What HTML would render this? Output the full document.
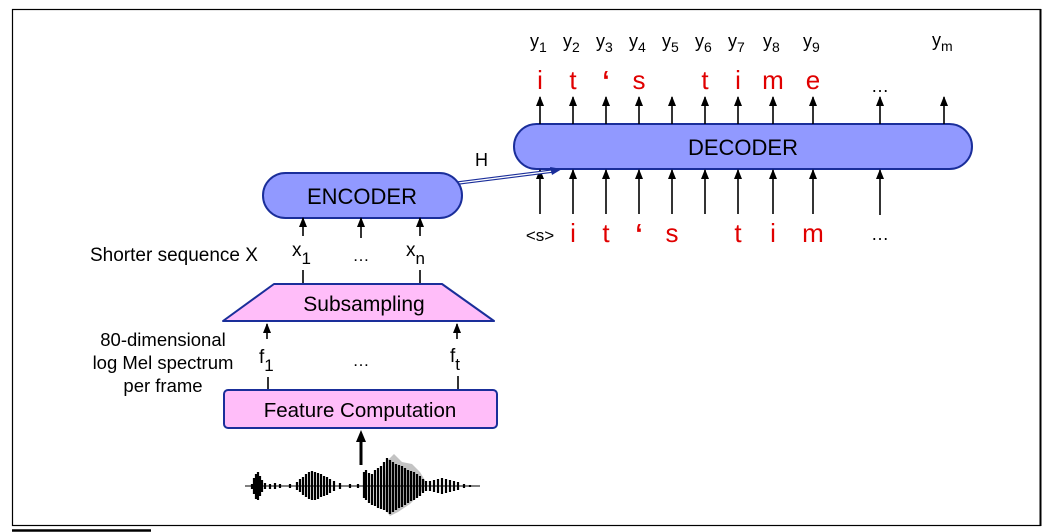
<!DOCTYPE html>
<html><head><meta charset="utf-8"><style>
html,body{margin:0;padding:0;background:#fff;}
svg{display:block;font-family:"Liberation Sans",sans-serif;}
</style></head><body>
<svg width="1057" height="532" viewBox="0 0 1057 532" xmlns="http://www.w3.org/2000/svg">
<defs>
<marker id="a" markerWidth="10" markerHeight="10" refX="9" refY="4" orient="auto" markerUnits="userSpaceOnUse" viewBox="0 0 10 8"><path d="M0,0 L10,4 L0,8 Z" fill="#000"/></marker>
</defs>
<rect x="12.5" y="9.5" width="1028" height="516" fill="none" stroke="#000" stroke-width="1.2"/>
<line x1="1040.5" y1="9" x2="1040.5" y2="526" stroke="#000" stroke-width="2"/>
<line x1="12" y1="530.5" x2="151" y2="530.5" stroke="#000" stroke-width="2.5"/>

<rect x="514" y="124" width="458" height="45" rx="22.5" fill="#9199ff" stroke="#1a2e9a" stroke-width="2"/>
<text x="743" y="155" font-size="22" text-anchor="middle">DECODER</text>
<g stroke="#000" stroke-width="1.6" marker-end="url(#a)">
<line x1="540" y1="124" x2="540" y2="97"/><line x1="573" y1="124" x2="573" y2="97"/>
<line x1="606" y1="124" x2="606" y2="97"/><line x1="639" y1="124" x2="639" y2="97"/>
<line x1="672" y1="124" x2="672" y2="97"/><line x1="705" y1="124" x2="705" y2="97"/>
<line x1="738" y1="124" x2="738" y2="97"/><line x1="773" y1="124" x2="773" y2="97"/>
<line x1="813" y1="124" x2="813" y2="97"/><line x1="880" y1="124" x2="880" y2="97"/>
<line x1="944" y1="124" x2="944" y2="97"/>
<line x1="540" y1="214" x2="540" y2="170"/><line x1="573" y1="214" x2="573" y2="170"/>
<line x1="606" y1="214" x2="606" y2="170"/><line x1="639" y1="214" x2="639" y2="170"/>
<line x1="672" y1="214" x2="672" y2="170"/><line x1="705" y1="214" x2="705" y2="170"/>
<line x1="738" y1="214" x2="738" y2="170"/><line x1="773" y1="214" x2="773" y2="170"/>
<line x1="813" y1="214" x2="813" y2="170"/><line x1="880" y1="215" x2="880" y2="170"/>
</g>
<g font-size="18" fill="#000">
<text x="530" y="47">y<tspan font-size="14" dy="5">1</tspan></text>
<text x="563" y="47">y<tspan font-size="14" dy="5">2</tspan></text>
<text x="596" y="47">y<tspan font-size="14" dy="5">3</tspan></text>
<text x="629" y="47">y<tspan font-size="14" dy="5">4</tspan></text>
<text x="662" y="47">y<tspan font-size="14" dy="5">5</tspan></text>
<text x="695" y="47">y<tspan font-size="14" dy="5">6</tspan></text>
<text x="728" y="47">y<tspan font-size="14" dy="5">7</tspan></text>
<text x="763" y="47">y<tspan font-size="14" dy="5">8</tspan></text>
<text x="803" y="47">y<tspan font-size="14" dy="5">9</tspan></text>
<text x="932" y="46">y<tspan font-size="14" dy="5">m</tspan></text>
</g>
<g font-size="26" fill="#e00000" text-anchor="middle">
<text x="540" y="89">i</text><text x="573" y="89">t</text><text x="606" y="89" font-weight="bold">‘</text>
<text x="639" y="89">s</text><text x="705" y="89">t</text><text x="738" y="89">i</text>
<text x="773" y="89">m</text><text x="813" y="89">e</text>
<text x="573" y="242">i</text><text x="606" y="242">t</text><text x="639" y="242" font-weight="bold">‘</text>
<text x="672" y="242">s</text><text x="738" y="242">t</text><text x="773" y="242">i</text>
<text x="813" y="242">m</text>
</g>
<text x="880" y="92" font-size="18" text-anchor="middle">…</text>
<text x="880" y="240" font-size="18" text-anchor="middle">…</text>
<text x="540" y="241" font-size="17" text-anchor="middle">&lt;s&gt;</text>

<line x1="458" y1="183" x2="553" y2="171" stroke="#1a2e9a" stroke-width="3.5"/>
<line x1="458" y1="183" x2="553" y2="171" stroke="#fff" stroke-width="1.3"/>
<path d="M550,167 L562,169 L552,175 Z" fill="#1a2e9a"/>
<text x="475" y="166" font-size="18">H</text>

<rect x="263" y="173" width="199" height="45" rx="22.5" fill="#9199ff" stroke="#1a2e9a" stroke-width="2"/>
<text x="362" y="204" font-size="22" text-anchor="middle">ENCODER</text>
<g stroke="#000" stroke-width="1.6" marker-end="url(#a)">
<line x1="303" y1="236" x2="303" y2="218"/><line x1="361" y1="238" x2="361" y2="218"/><line x1="420" y1="236" x2="420" y2="218"/>
</g>
<text x="90" y="261" font-size="19">Shorter sequence X</text>
<text x="292" y="256" font-size="19">x<tspan font-size="17" dy="8">1</tspan></text>
<text x="361" y="261" font-size="17" text-anchor="middle">…</text>
<text x="406" y="256" font-size="19">x<tspan font-size="17" dy="8">n</tspan></text>
<line x1="303" y1="270" x2="303" y2="284" stroke="#000" stroke-width="1.6"/>
<line x1="420" y1="270" x2="420" y2="284" stroke="#000" stroke-width="1.6"/>

<path d="M274,284 L442,284 L494,321 L223,321 Z" fill="#ffbdf9" stroke="#1a2e9a" stroke-width="2" stroke-linejoin="round"/>
<text x="364" y="311" font-size="21" text-anchor="middle">Subsampling</text>
<g stroke="#000" stroke-width="1.6" marker-end="url(#a)">
<line x1="267" y1="339" x2="267" y2="324"/><line x1="457" y1="339" x2="457" y2="324"/>
</g>
<g font-size="18.5" text-anchor="middle">
<text x="163" y="346">80-dimensional</text>
<text x="163" y="369">log Mel spectrum</text>
<text x="163" y="392">per frame</text>
</g>
<text x="259" y="363" font-size="19">f<tspan font-size="17" dy="8">1</tspan></text>
<text x="361" y="366" font-size="17" text-anchor="middle">…</text>
<text x="450" y="362" font-size="19">f<tspan font-size="17" dy="8">t</tspan></text>
<line x1="268" y1="377" x2="268" y2="390" stroke="#000" stroke-width="1.6"/>
<line x1="458" y1="376" x2="458" y2="390" stroke="#000" stroke-width="1.6"/>

<rect x="224" y="390" width="273" height="38" rx="4" fill="#ffbdf9" stroke="#1a2e9a" stroke-width="2"/>
<text x="360" y="417" font-size="20.5" text-anchor="middle">Feature Computation</text>
<line x1="361" y1="465" x2="361" y2="440" stroke="#000" stroke-width="3"/>
<path d="M356,442 L361,430 L366,442 Z" fill="#000"/>

<path d="M386,462 L394,454 L402,462 L412,464 L420,472 L426,482 L420,494 L410,504 L398,512 L390,516 L384,508 Z" fill="#888" opacity="0.5"/>
<g stroke="#000" stroke-width="2.2">
<path d="M252,484V489M254,478V494M256,474V499M258,472V500M260,476V496M262,480V492M265,483V489M270,484V489M275,483V489M280,484V488M290,484V488M297,482V490M300,479V492M303,477V495M306,474V497M309,472V499M312,471V500M315,472V500M318,473V499M321,474V497M324,476V496M327,477V495M330,479V493M334,481V491M340,483V489M350,484V488M358,484V488M364,472V498M366,470V500M369,473V503M372,474V505M375,470V506M378,468V508M381,466V509M384,462V510M387,458V512M390,460V514M393,462V512M396,464V510M399,465V508M402,466V507M405,468V505M408,470V503M411,471V501M414,472V500M417,474V498M420,476V496M423,479V493M426,481V491M430,481V491M434,480V492M438,479V493M442,478V494M446,479V493M450,480V492M454,481V491M458,482V490M464,484V488M470,485V487"/>
</g>
<line x1="245" y1="486" x2="480" y2="486" stroke="#000" stroke-width="1"/>
</svg>
</body></html>
